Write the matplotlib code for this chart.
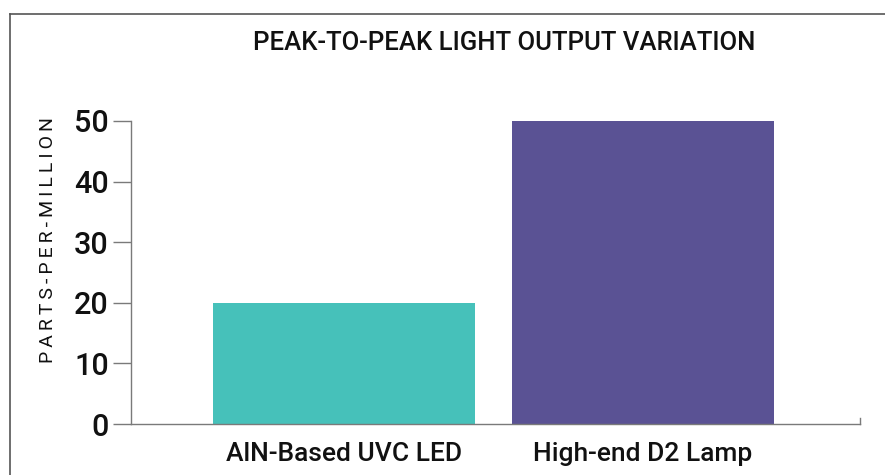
import matplotlib
matplotlib.use("Agg")
import matplotlib.pyplot as plt
from matplotlib.lines import Line2D

# data
categories = ["AlN-Based UVC LED", "High-end D2 Lamp"]
values = [20, 50]
bar_colors = ["#46c1ba", "#5a5294"]
yticks = [0, 10, 20, 30, 40, 50]
ylabel = "PARTS-PER-MILLION"
title = "PEAK-TO-PEAK LIGHT OUTPUT VARIATION"

plt.rcParams['font.family'] = ['Roboto', 'DejaVu Sans']
plt.rcParams['font.weight'] = 'medium'

fig = plt.figure(figsize=(8.85, 4.75), dpi=100)
ax = fig.add_axes([131 / 885, 51 / 475, 729 / 885, 303 / 475])

x = range(len(categories))
ax.bar(x, values, width=0.876, color=bar_colors)

ax.set_xlim(-0.712, 1.726)
ax.set_ylim(0, 50)
ax.set_yticks(yticks)
ax.set_xticks(list(x))
ax.set_xticklabels(categories, fontsize=19, color="#111111")
ax.tick_params(axis="x", length=0, pad=13)
ax.tick_params(axis="y", length=13, width=1.0, color="#7a7a7a",
               labelsize=22, labelcolor="#111111", pad=3)

ax.spines["top"].set_visible(False)
for s in ["left", "bottom", "right"]:
    ax.spines[s].set_color("#7a7a7a")
    ax.spines[s].set_linewidth(1.0)
ax.spines["right"].set_bounds(0, 1)

# letter-spaced axis label
ax.set_ylabel("\u2009".join(ylabel), fontsize=14, color="#111111")
ax.yaxis.set_label_coords(-0.101, 0.607)

fig.text(504 / 885, 1 - 43 / 475, title,
         ha="center", va="center", fontsize=18.5, color="#111111")

# outer frame
fig.add_artist(Line2D([9.5 / 885, 9.5 / 885], [0, 1 - 14 / 475],
                      transform=fig.transFigure, color="#555555", lw=1.2))
fig.add_artist(Line2D([9.5 / 885, 1], [1 - 14 / 475, 1 - 14 / 475],
                      transform=fig.transFigure, color="#555555", lw=1.2))

fig.savefig("out.png", dpi=100)
